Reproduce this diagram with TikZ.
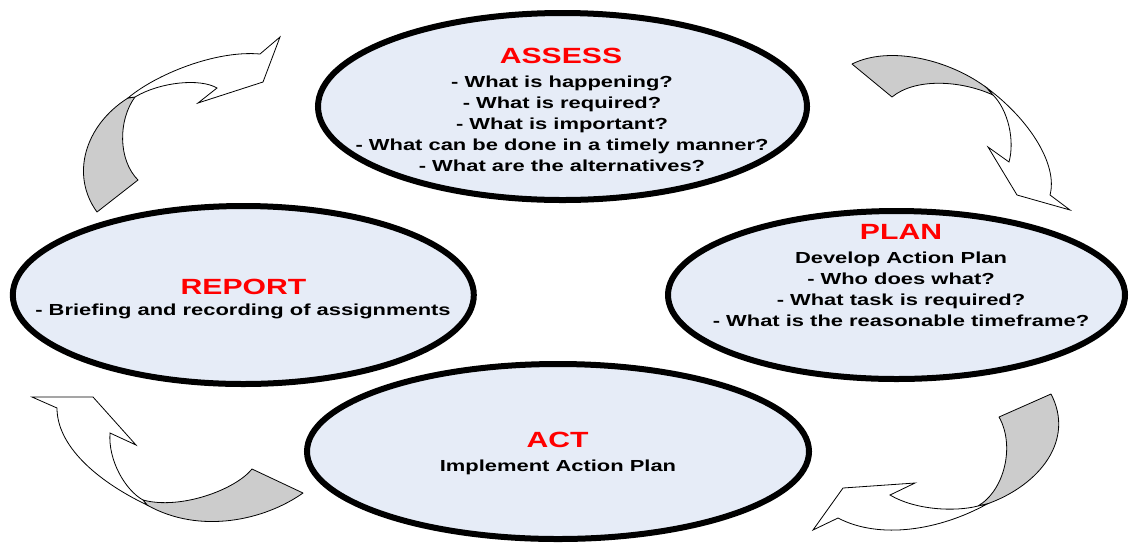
\documentclass[tikz,border=0pt]{standalone}
\usepackage{fontspec}
\setmainfont{Liberation Sans}
\newfontfamily\wb[FakeStretch=1.37]{Liberation Sans Bold}
\usetikzlibrary{shapes.geometric}
\definecolor{ellfill}{RGB}{230,236,247}
\definecolor{ribbon}{RGB}{204,204,204}
\definecolor{ttl}{RGB}{255,0,0}
\tikzset{
  bubble/.style={ellipse, draw=black, line width=6pt, fill=ellfill, inner sep=0pt},
  title/.style={anchor=base, inner sep=0pt, text=ttl, font=\wb\fontsize{22}{22}\selectfont},
  body/.style={anchor=base, inner sep=0pt, align=center, font=\wb\fontsize{16}{21.1}\selectfont},
  grayband/.style={draw=black, line width=0.8pt, fill=ribbon, line join=round},
  whiteband/.style={draw=black, line width=0.8pt, fill=white, line join=miter},
}
\begin{document}
\begin{tikzpicture}[x=1pt,y=-1pt]
\useasboundingbox (0,0) rectangle (1131,542);
% ellipses
\node[bubble, minimum width=461pt, minimum height=178pt] (report) at (243.3,295) {};
\node[bubble, minimum width=457pt, minimum height=168pt] (plan) at (896.5,295) {};
\node[bubble, minimum width=489pt, minimum height=187pt] (assess) at (562.5,106.5) {};
\node[bubble, minimum width=502pt, minimum height=175pt] (act) at (558,451.5) {};
% texts (multi-line nodes: base = baseline of last line)
\node[title] (assesst) at (561,63.3) {ASSESS};
\node[body] (assessb) at (562,171.7) {- What is happening?\\- What is required?\\- What is important?\\- What can be done in a timely manner?\\- What are the alternatives?};
\node[title] (plant) at (901,239.3) {PLAN};
\node[body] (planb) at (901,326.7) {Develop Action Plan\\- Who does what?\\- What task is required?\\- What is the reasonable timeframe?};
\node[title] (reportt) at (243.5,294) {REPORT};
\node[body] (reportb) at (243,315.7) {- Briefing and recording of assignments};
\node[title] (actt) at (557.5,447.3) {ACT};
\node[body] (actb) at (558,471) {Implement Action Plan};
% arrow top-left
\draw[grayband] (97,212) .. controls (70,175) and (85,125) .. (128,98) -- (135,97) .. controls (118,120) and (118,160) .. (138,180) -- cycle;
\draw[whiteband] (128,98) .. controls (155,75) and (215,50) .. (260,54) -- (280,37) -- (263,82) -- (198,103) -- (217,88) .. controls (200,78) and (160,82) .. (135,97) -- cycle;
% arrow top-right
\draw[grayband] (852,64) .. controls (890,45) and (950,60) .. (987,88) -- (993,95) .. controls (960,80) and (915,78) .. (892,97) -- cycle;
\draw[whiteband] (987,88) .. controls (1030,120) and (1058,165) .. (1050,195) -- (1070,210) -- (1017,195) -- (988,147) -- (1009,162) .. controls (1015,140) and (1008,110) .. (993,95) -- cycle;
% arrow bottom-left
\draw[grayband] (303,493) -- (252,469) .. controls (235,490) and (180,510) .. (143,500) -- (147,505) .. controls (200,535) and (265,520) .. (303,493) -- cycle;
\draw[whiteband] (147,505) .. controls (95,480) and (57,445) .. (57,408) -- (32,397) -- (93,397) -- (136,445) -- (110,433) .. controls (108,460) and (125,490) .. (143,500) -- cycle;
% arrow bottom-right
\draw[grayband] (1051,394) -- (999,417) .. controls (1015,445) and (1005,490) .. (978,506) -- (987,504) .. controls (1040,485) and (1075,440) .. (1051,394) -- cycle;
\draw[whiteband] (987,504) .. controls (940,530) and (880,540) .. (838,518) -- (813,530) -- (843,488) -- (915,483) -- (890,495) .. controls (915,510) and (955,512) .. (978,506) -- cycle;
\end{tikzpicture}
\end{document}
